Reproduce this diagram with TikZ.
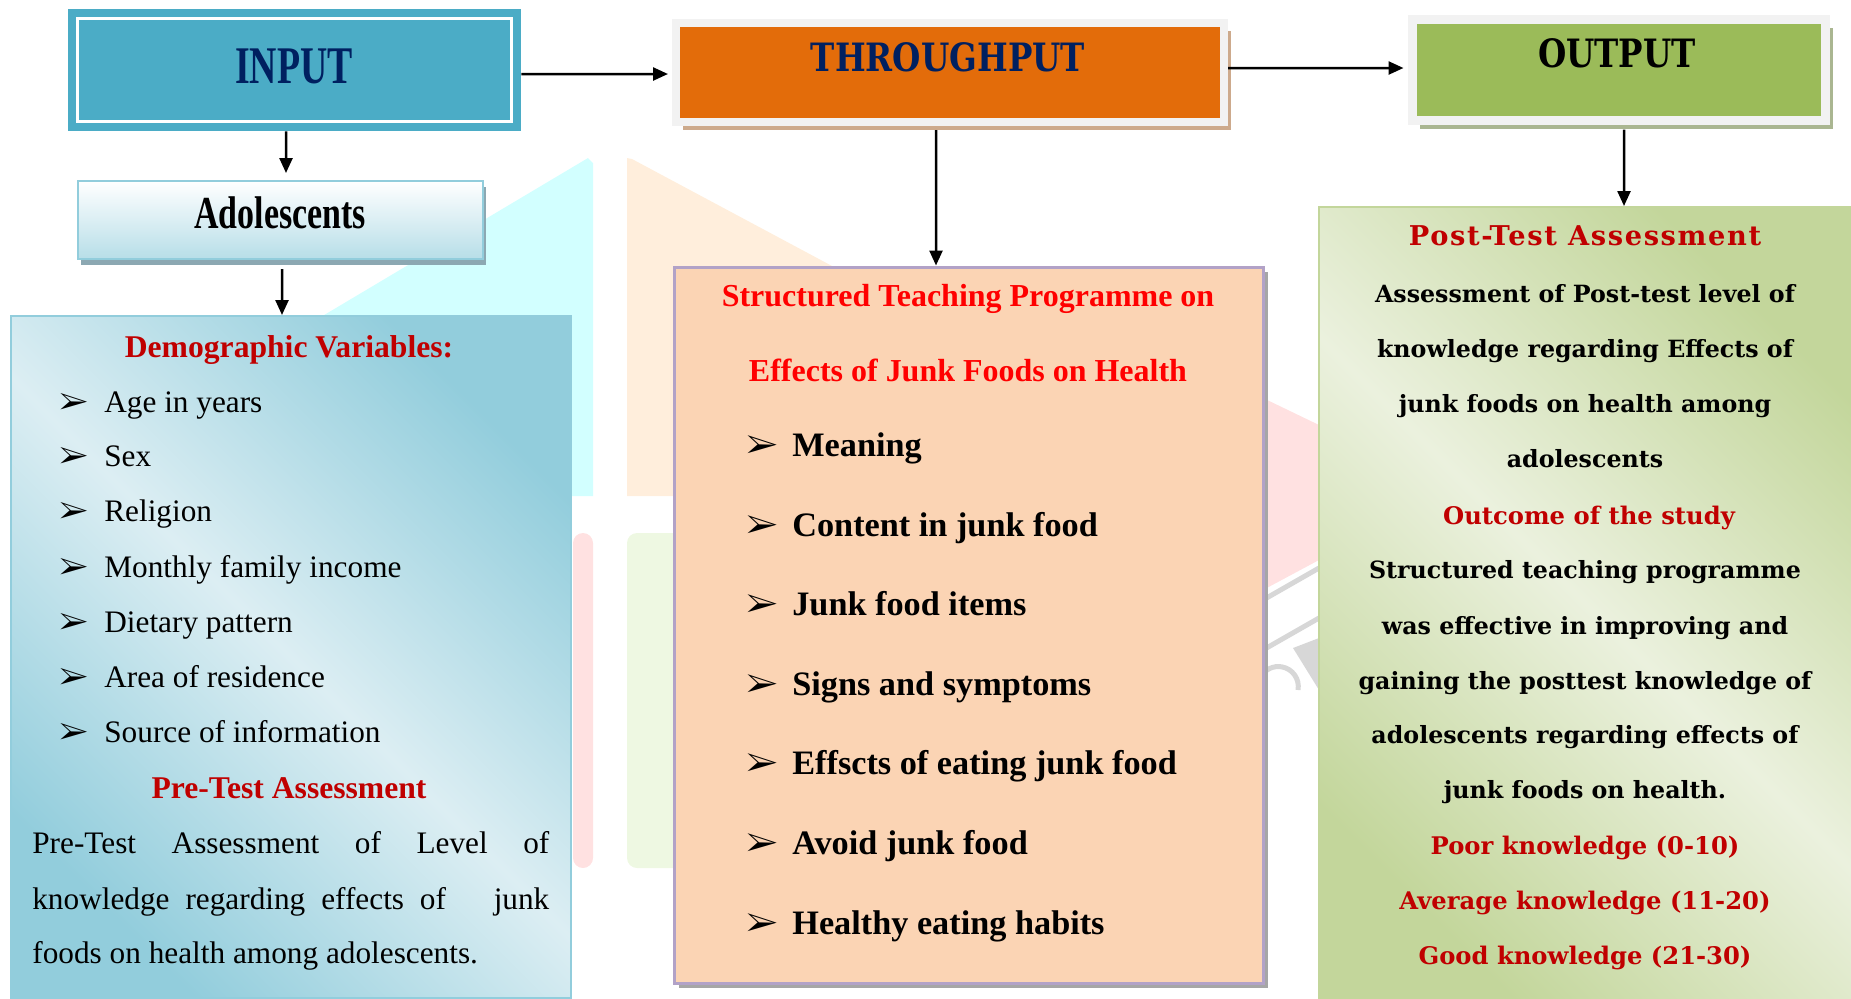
\documentclass[tikz,border=0pt]{standalone}
\usepackage{fontspec}
\setmainfont{Liberation Serif}
\newfontfamily\bookfont{DejaVu Serif}
\newfontfamily\bookwide[LetterSpace=6]{DejaVu Serif}
\usepackage{pifont}
\usetikzlibrary{arrows.meta,shadows}

\definecolor{inblue}{RGB}{75,172,198}
\definecolor{navy}{RGB}{0,32,96}
\definecolor{thorange}{RGB}{227,108,10}
\definecolor{boxgrey}{RGB}{242,242,242}
\definecolor{thshadow}{RGB}{205,170,140}
\definecolor{outgreen}{RGB}{155,187,89}
\definecolor{outshadow}{RGB}{170,182,145}
\definecolor{adblue}{RGB}{183,222,232}
\definecolor{adshadow}{RGB}{140,168,178}
\definecolor{dlblue}{RGB}{220,238,243}
\definecolor{dmblue}{RGB}{146,205,220}
\definecolor{peach}{RGB}{251,212,180}
\definecolor{lavender}{RGB}{178,162,199}
\definecolor{plgreen}{RGB}{235,241,222}
\definecolor{pmgreen}{RGB}{195,214,155}
\definecolor{dkred}{RGB}{192,0,0}
\definecolor{wmcyan}{RGB}{210,255,255}
\definecolor{wmpeach}{RGB}{255,238,220}
\definecolor{wmpink}{RGB}{255,225,225}
\definecolor{wmgreen}{RGB}{238,248,226}
\definecolor{wmgray}{RGB}{215,215,215}

\pgfdeclarehorizontalshading{demoshade}{100bp}{color(0bp)=(dmblue); color(25bp)=(dmblue); color(50bp)=(dlblue); color(75bp)=(dmblue); color(100bp)=(dmblue)}
\pgfdeclarehorizontalshading{postshade}{100bp}{color(0bp)=(pmgreen); color(25bp)=(pmgreen); color(50bp)=(plgreen); color(75bp)=(pmgreen); color(100bp)=(pmgreen)}

\newcommand{\demobul}{\makebox[9mm][l]{\ding{226}}}
\newcommand{\stpbul}{\makebox[9.2mm][l]{\ding{226}}}

\tikzset{
  arr/.style={-{Triangle[length=3mm,width=2.6mm]}, line width=0.5mm},
  title/.style={font=\bookfont\bfseries\fontsize{18.5}{20}\selectfont},
  demotxt/.style={font=\fontsize{17.8}{20}\selectfont, anchor=base west, inner sep=0},
  demohead/.style={font=\bfseries\fontsize{18}{20}\selectfont, text=dkred, anchor=base, inner sep=0},
  stptxt/.style={font=\bfseries\fontsize{19.5}{22}\selectfont, anchor=base west, inner sep=0},
  stphead/.style={font=\bfseries\fontsize{18.2}{20}\selectfont, text=red, anchor=base, inner sep=0},
  posttxt/.style={font=\bookfont\bfseries\fontsize{13.5}{15}\selectfont, anchor=base, inner sep=0},
  posthead/.style={posttxt, font=\bookfont\bfseries\fontsize{13.8}{15}\selectfont, text=dkred}
}

\begin{document}
\begin{tikzpicture}[x=0.2mm,y=-0.2mm]
  \useasboundingbox (0,0) rectangle (1851,998);

  % faint logo behind the boxes
  \fill[wmcyan] (588,158) -- (593,163) -- (593,496) -- (20,496) -- cycle;
  \fill[wmpeach] (627,158) -- (632,159) -- (1262,496) -- (627,496) -- cycle;
  \fill[wmpink, rounded corners=2mm] (573,533) rectangle (593,868);
  \fill[wmgreen, rounded corners=2mm] (627,533) rectangle (690,868);
  \fill[wmpink] (1263,398) -- (1319,425) -- (1319,560) -- (1263,590) -- cycle;
  \draw[wmgray, line width=1mm] (1263,600) -- (1319,568);
  \draw[wmgray, line width=1mm] (1263,650) -- (1319,618);
  \fill[wmgray] (1293,648) -- (1319,638) -- (1319,690) -- cycle;
  \draw[wmgray, line width=1mm] (1298,690) arc (10:-150:20);

  % top row
  \node[fill=inblue, minimum width=90.6mm, minimum height=24.4mm] (input) at (294.5,70) {};
  \draw[white, line width=0.5mm] ([shift={(10,10)}]input.north west) rectangle ([shift={(-10,-10)}]input.south east);
  \node[text=navy, font=\bfseries\fontsize{21.5}{24}\selectfont] (inputtxt) at (294,66) {\scalebox{1}[1.4]{INPUT}};
  \node[fill=thorange, draw=boxgrey, line width=1.6mm, minimum width=109.6mm, minimum height=19.8mm,
        drop shadow={shadow xshift=1.4mm, shadow yshift=-1.6mm, fill=thshadow, opacity=1}] (thru) at (950,72.5) {};
  \node[title, text=navy] (thrutxt) at (948,57) {\scalebox{1}[1.2]{THROUGHPUT}};
  \node[fill=outgreen, draw=boxgrey, line width=1.8mm, minimum width=82.6mm, minimum height=20.2mm,
        drop shadow={shadow xshift=1.4mm, shadow yshift=-1.6mm, fill=outshadow, opacity=1}] (output) at (1619,70) {};
  \node[title] (outtxt) at (1617,53) {\scalebox{1}[1.2]{OUTPUT}};

  % boxes below
  \node[top color=white, bottom color=adblue, draw=dmblue, line width=0.4mm,
        minimum width=81mm, minimum height=15.6mm,
        drop shadow={shadow xshift=0.6mm, shadow yshift=-1.2mm, fill=adshadow, opacity=1}] (adol) at (280.5,220) {};
  \node[font=\bfseries\fontsize{19.3}{22}\selectfont] (adoltxt) at (280,213) {\scalebox{1}[1.35]{Adolescents}};
  \node[shade, shading=demoshade, shading angle=45, draw=dmblue, line width=0.4mm,
        minimum width=112mm, minimum height=136.4mm] (demo) at (291,657) {};
  \node[fill=peach, draw=lavender, line width=0.6mm, minimum width=117.8mm, minimum height=143.2mm,
        drop shadow={shadow xshift=0.9mm, shadow yshift=-0.9mm, fill=black!35, opacity=1}] (stp) at (968.5,625) {};
  \node[shade, shading=postshade, shading angle=45, draw=pmgreen, line width=0.4mm,
        minimum width=107.4mm, minimum height=159.2mm] (post) at (1587.5,605) {};

  % connectors
  \draw[arr, shorten >=0.8mm] ([yshift=-0.8mm]input.east) -- ([yshift=-0.3mm]thru.west);
  \draw[arr, shorten >=0.9mm] ([yshift=0.9mm]thru.east) -- ([yshift=0.4mm]output.west);
  \draw[arr, shorten >=1.4mm] ([xshift=-1.7mm]input.south) -- ([xshift=1.1mm]adol.north);
  \draw[arr, shorten <=1.8mm] ([xshift=0.3mm]adol.south) -- ([xshift=-1.8mm]demo.north);
  \draw[arr, shorten <=0.8mm] ([xshift=-2.8mm]thru.south) -- ([xshift=-6.5mm]stp.north);
  \draw[arr, shorten <=0.9mm] ([xshift=1mm]output.south) -- ([xshift=7.3mm]post.north);

  % demographic variables
  \node[demohead] (demotitle) at (289,357) {Demographic Variables:};
  \node[demotxt] (age) at (59,412) {\demobul Age in years};
  \node[demotxt] (sex) at (59,466) {\demobul Sex};
  \node[demotxt] (religion) at (59,521) {\demobul Religion};
  \node[demotxt] (income) at (59,577) {\demobul Monthly family income};
  \node[demotxt] (diet) at (59,632) {\demobul Dietary pattern};
  \node[demotxt] (residence) at (59,687) {\demobul Area of residence};
  \node[demotxt] (source) at (59,742) {\demobul Source of information};
  \node[demohead] (pretitle) at (289,798) {Pre-Test Assessment};
  \node[demotxt] (preline1) at (32,853) {\makebox[103.4mm][s]{Pre-Test Assessment of Level of}};
  \node[demotxt] (preline2) at (32,909) {\makebox[103.4mm][s]{knowledge regarding effects of \ \ junk}};
  \node[demotxt] (preline3) at (32,963) {foods on health among adolescents.};

  % teaching programme
  \node[stphead] (stptitle1) at (968,306) {Structured Teaching Programme on};
  \node[stphead] (stptitle2) at (968,381) {Effects of Junk Foods on Health};
  \node[stptxt] (meaning) at (746,456) {\stpbul Meaning};
  \node[stptxt] (content) at (746,536) {\stpbul Content in junk food};
  \node[stptxt] (fooditems) at (746,615) {\stpbul Junk food items};
  \node[stptxt] (signs) at (746,695) {\stpbul Signs and symptoms};
  \node[stptxt] (effects) at (746,774) {\stpbul Effscts of eating junk food};
  \node[stptxt] (avoid) at (746,854) {\stpbul Avoid junk food};
  \node[stptxt] (habits) at (746,934) {\stpbul Healthy eating habits};

  % post-test assessment
  \node[posthead, font=\bookwide\bfseries\fontsize{15.5}{18}\selectfont] (posttitle) at (1585,245) {Post-Test Assessment};
  \node[posttxt] (postline1) at (1585,302) {Assessment of Post-test level of};
  \node[posttxt] (postline2) at (1585,357) {knowledge regarding Effects of};
  \node[posttxt] (postline3) at (1585,412) {junk foods on health among};
  \node[posttxt] (postline4) at (1585,467) {adolescents};
  \node[posthead] (outcometitle) at (1589,524) {Outcome of the study};
  \node[posttxt] (outline1) at (1585,578) {Structured teaching programme};
  \node[posttxt] (outline2) at (1585,634) {was effective in improving and};
  \node[posttxt] (outline3) at (1585,689) {gaining the posttest knowledge of};
  \node[posttxt] (outline4) at (1585,743) {adolescents regarding effects of};
  \node[posttxt] (outline5) at (1585,798) {junk foods on health.};
  \node[posthead] (poor) at (1585,854) {Poor knowledge (0-10)};
  \node[posthead] (average) at (1585,909) {Average knowledge (11-20)};
  \node[posthead] (good) at (1585,964) {Good knowledge (21-30)};
\end{tikzpicture}
\end{document}
